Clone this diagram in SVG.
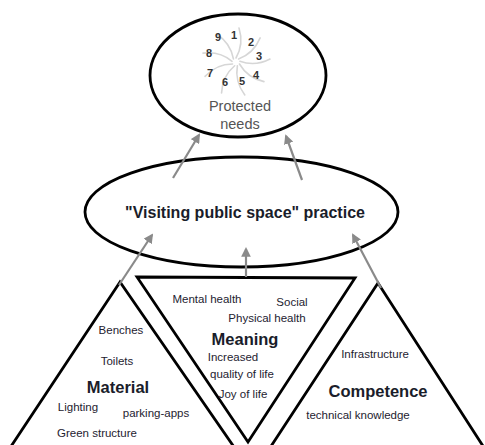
<svg xmlns="http://www.w3.org/2000/svg" width="485" height="445" viewBox="0 0 485 445">
<style>
.shape{fill:none;stroke:#000;stroke-width:2.8}
.lbl{font-family:"Liberation Sans",Arial,sans-serif;font-size:11.5px;fill:#1e2230;text-anchor:middle}
.big{font-family:"Liberation Sans",Arial,sans-serif;font-size:16.5px;font-weight:bold;fill:#1a1d2a;text-anchor:middle}
.num{font-family:"Liberation Sans",Arial,sans-serif;font-size:11px;font-weight:bold;fill:#333;text-anchor:middle}
.need{font-family:"Liberation Sans",Arial,sans-serif;font-size:14.5px;fill:#555;text-anchor:middle}
.arr{stroke:#8a8a8a;stroke-width:2.2;fill:none;marker-end:url(#ah)}
.spoke{stroke:#d6d6d6;stroke-width:1.6;fill:none;stroke-linecap:round}
</style>
<defs>
<marker id="ah" viewBox="0 0 10 10" refX="8" refY="5" markerWidth="4.4" markerHeight="4.4" orient="auto" markerUnits="strokeWidth">
<path d="M0,0 L10,5 L0,10 z" fill="#8a8a8a"/>
</marker>
<path id="sp" d="M0,-4 Q8,-18 3,-34"/>
</defs>
<rect width="485" height="445" fill="#fff"/>

<g id="protected-needs">
<ellipse class="shape" cx="238" cy="75.5" rx="88" ry="61.5"/>
<g class="spoke">
<use href="#sp" transform="translate(236,62) rotate(0)"/>
<use href="#sp" transform="translate(236,62) rotate(40)"/>
<use href="#sp" transform="translate(236,62) rotate(80)"/>
<use href="#sp" transform="translate(236,62) rotate(120)"/>
<use href="#sp" transform="translate(236,62) rotate(160)"/>
<use href="#sp" transform="translate(236,62) rotate(200)"/>
<use href="#sp" transform="translate(236,62) rotate(240)"/>
<use href="#sp" transform="translate(236,62) rotate(280)"/>
<use href="#sp" transform="translate(236,62) rotate(320)"/>
</g>
<text class="num" x="218" y="41">9</text>
<text class="num" x="234" y="39">1</text>
<text class="num" x="251" y="46">2</text>
<text class="num" x="209" y="57">8</text>
<text class="num" x="259" y="60">3</text>
<text class="num" x="210" y="77">7</text>
<text class="num" x="256" y="79">4</text>
<text class="num" x="225" y="86">6</text>
<text class="num" x="242" y="85">5</text>
<text class="need" x="240" y="111">Protected</text>
<text class="need" x="240" y="129">needs</text>
</g>

<g id="practice">
<ellipse class="shape" cx="241.5" cy="212" rx="156.5" ry="55"/>
<text class="big" x="245" y="218" style="font-size:16px">"Visiting public space" practice</text>
</g>

<g id="material">
<polygon class="shape" points="120,282 2,460 243,460"/>
<text class="lbl" x="121" y="334">Benches</text>
<text class="lbl" x="117" y="365">Toilets</text>
<text class="big" x="118" y="393">Material</text>
<text class="lbl" x="78" y="411">Lighting</text>
<text class="lbl" x="156" y="417">parking-apps</text>
<text class="lbl" x="97" y="437">Green structure</text>
</g>

<g id="meaning">
<polygon class="shape" points="137,277 355,278 248,442"/>
<text class="lbl" x="207" y="303">Mental health</text>
<text class="lbl" x="292" y="306">Social</text>
<text class="lbl" x="267" y="322">Physical health</text>
<text class="big" x="245" y="345">Meaning</text>
<text class="lbl" x="233" y="361">Increased</text>
<text class="lbl" x="242" y="378">quality of life</text>
<text class="lbl" x="243" y="398">Joy of life</text>
</g>

<g id="competence">
<polygon class="shape" points="378,283 262,460 492,460"/>
<text class="lbl" x="375" y="358">Infrastructure</text>
<text class="big" x="378" y="397">Competence</text>
<text class="lbl" x="358" y="419">technical knowledge</text>
</g>

<g id="connectors">
<line class="arr" x1="173" y1="178" x2="199" y2="135"/>
<line class="arr" x1="302" y1="180" x2="286" y2="136"/>
<line class="arr" x1="119" y1="285" x2="152" y2="235"/>
<line class="arr" x1="246" y1="277" x2="246" y2="249"/>
<line class="arr" x1="381" y1="288" x2="353" y2="235"/>
</g>
</svg>
